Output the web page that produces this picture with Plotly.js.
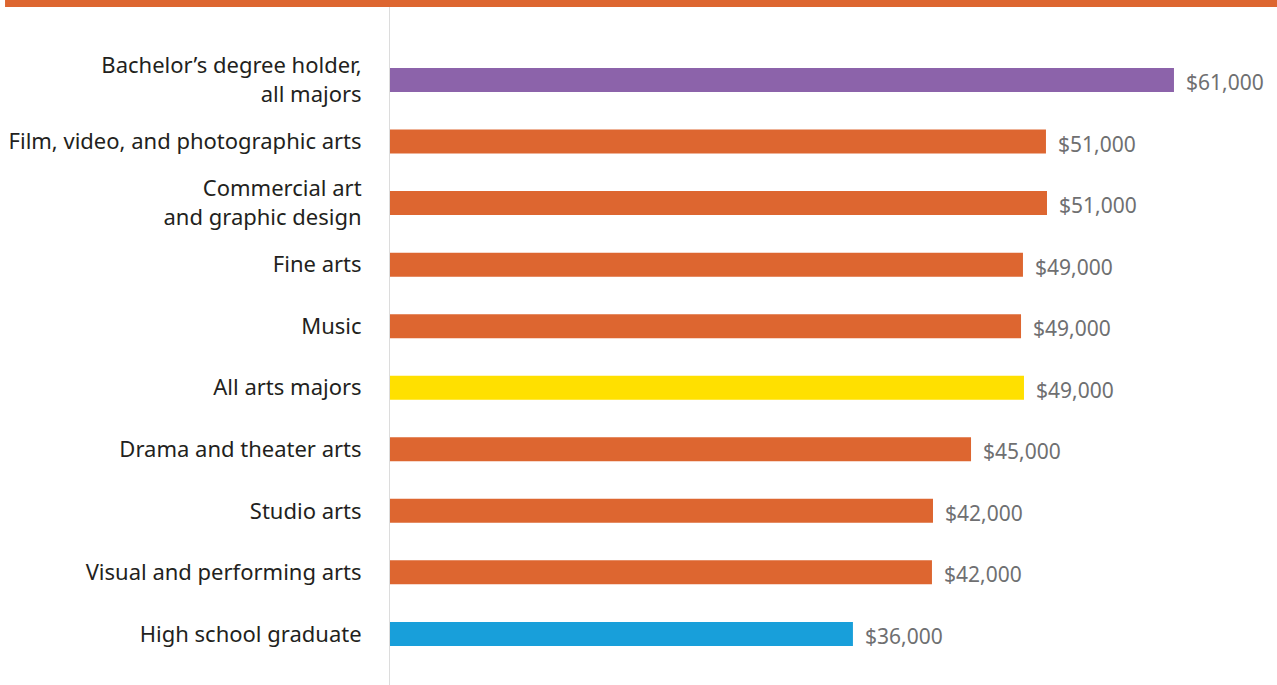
<!DOCTYPE html>
<html>
<head>
<meta charset="utf-8">
<script src="https://cdn.plot.ly/plotly-3.0.1.min.js"></script>
<style>
html,body{margin:0;padding:0;background:#fff;}
#chart{width:1277px;height:685px;}
</style>
</head>
<body>
<div id="chart"></div>
<script>
var categories = [
  "Bachelor’s degree holder,<br>all majors",
  "Film, video, and photographic arts",
  "Commercial art<br>and graphic design",
  "Fine arts",
  "Music",
  "All arts majors",
  "Drama and theater arts",
  "Studio arts",
  "Visual and performing arts",
  "High school graduate"
];
var earnings = [61000, 51040, 51120, 49250, 49100, 49330, 45210, 42250, 42170, 36020];
var valueLabels = ["$61,000","$51,000","$51,000","$49,000","$49,000","$49,000","$45,000","$42,000","$42,000","$36,000"];
var barColors = ["#8C63AA","#DD6630","#DD6630","#DD6630","#DD6630","#FFE000","#DD6630","#DD6630","#DD6630","#189FDA"];

var trace = {
  type: "bar",
  orientation: "h",
  y: categories,
  x: earnings,
  width: 0.39,
  marker: {color: barColors},
  hoverinfo: "none"
};

var annotations = categories.map(function(c, i){
  return {
    x: earnings[i], y: c, xref: "x", yref: "y",
    text: valueLabels[i], showarrow: false,
    xanchor: "left", yanchor: "middle", xshift: 10, yshift: -2,
    font: {family: "'Noto Sans', sans-serif", size: 21, color: "#6f6f71"}
  };
});

var layout = {
  width: 1277, height: 685,
  margin: {l: 390, r: 0, t: 7, b: 0, pad: 0},
  paper_bgcolor: "#fff", plot_bgcolor: "#fff",
  showlegend: false,
  xaxis: {range: [0, 69017], showgrid: false, zeroline: false, showticklabels: false, showline: false, fixedrange: true},
  yaxis: {
    type: "category",
    range: [9.83, -1.186],
    autorange: false,
    showgrid: false, zeroline: false,
    showline: true, linecolor: "#dcdcdc", linewidth: 1,
    ticks: "",
    ticklabelstandoff: 23,
    tickfont: {family: "'Noto Sans', sans-serif", size: 22, color: "#231f20"},
    fixedrange: true
  },
  shapes: [{
    type: "rect", xref: "paper", yref: "paper",
    x0: -0.434, x1: 1, y0: 1, y1: 1.0104,
    fillcolor: "#DD6630", line: {width: 0}, layer: "above"
  }],
  annotations: annotations
};

Plotly.newPlot("chart", [trace], layout, {displayModeBar: false, staticPlot: true});
</script>
</body>
</html>
